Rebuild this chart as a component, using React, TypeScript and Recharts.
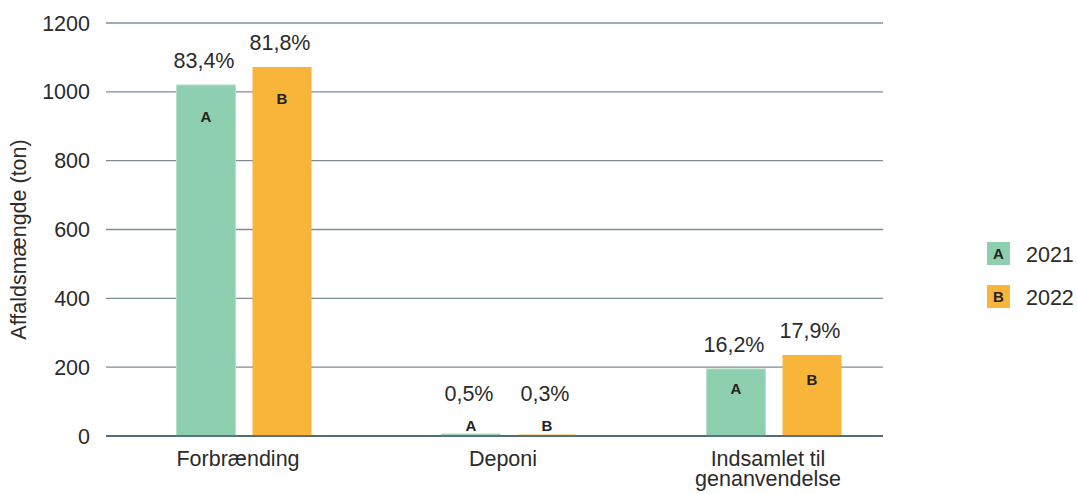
import React from 'react';
import { BarChart, Bar, XAxis, YAxis, CartesianGrid, LabelList, Legend, ReferenceLine } from 'recharts';

const categories = ['Forbrænding', 'Deponi', 'Indsamlet til genanvendelse'];
const values2021 = [1020, 6, 195];
const values2022 = [1072, 4, 235];
const pct2021 = ['83,4%', '0,5%', '16,2%'];
const pct2022 = ['81,8%', '0,3%', '17,9%'];
const seriesNames = ['2021', '2022'];
const seriesLetters = ['A', 'B'];
const seriesColors = ['#8ecfaf', '#f9b43a'];
const yTicks = [0, 200, 400, 600, 800, 1000, 1200];
const yLabel = 'Affaldsmængde (ton)';

const data = categories.map((c, i) => ({
  name: c,
  v2021: values2021[i],
  v2022: values2022[i],
  p2021: pct2021[i],
  p2022: pct2022[i],
}));

const FONT = '"Liberation Sans", Arial, Helvetica, sans-serif';
const TEXT = '#2b2b2b';
const FS = 21.5;

const renderPct = (props: any) => {
  const { x, y, width, height, value } = props;
  const base = y + height;
  const cy = Math.min(y - 25, base - 43);
  return (
    <text x={x + width / 2 - 2} y={cy} dy="0.36em" textAnchor="middle" fontFamily={FONT} fontSize={FS} fill={TEXT}>
      {value}
    </text>
  );
};

const makeLetter = (letter: string) => (props: any) => {
  const { x, y, width, height } = props;
  const base = y + height;
  const cy = Math.min(y + Math.min(32, 0.3 * height), base - 10);
  return (
    <text x={x + width / 2} y={cy} dy="0.36em" textAnchor="middle" fontFamily={FONT} fontSize={15} fontWeight="bold" fill="#222">
      {letter}
    </text>
  );
};

const wrap = (s: string, max: number) => {
  const words = s.split(' ');
  const lines: string[] = [];
  let cur = '';
  words.forEach((w) => {
    const t = cur ? cur + ' ' + w : w;
    if (t.length > max && cur) {
      lines.push(cur);
      cur = w;
    } else cur = t;
  });
  if (cur) lines.push(cur);
  return lines;
};

const XTick = (props: any) => {
  const { x, y, payload } = props;
  const lines = wrap(payload.value, 14);
  return (
    <text x={x - 6} y={y} textAnchor="middle" fontFamily={FONT} fontSize={FS} fill={TEXT}>
      {lines.map((l, i) => (
        <tspan key={i} x={x - 6} dy={i === 0 ? 22 : 20}>
          {l}
        </tspan>
      ))}
    </text>
  );
};

const YLabel = (props: any) => {
  const { viewBox } = props;
  const cx = viewBox.x - 27;
  const cy = viewBox.y + viewBox.height / 2 + 10;
  return (
    <text
      x={cx}
      y={cy}
      transform={`rotate(-90 ${cx} ${cy})`}
      textAnchor="middle"
      dominantBaseline="central"
      fontFamily={FONT}
      fontSize={FS}
      fill={TEXT}
    >
      {yLabel}
    </text>
  );
};

const LegendContent = () => (
  <div style={{ fontFamily: FONT }}>
    {seriesNames.map((n, i) => (
      <div key={n} style={{ display: 'flex', alignItems: 'center', height: 23, marginBottom: i === 0 ? 20 : 0 }}>
        <div
          style={{
            width: 23,
            height: 23,
            background: seriesColors[i],
            display: 'flex',
            alignItems: 'center',
            justifyContent: 'center',
            fontWeight: 'bold',
            fontSize: 15,
            color: '#222',
          }}
        >
          {seriesLetters[i]}
        </div>
        <span style={{ marginLeft: 16, fontSize: FS, color: TEXT, position: 'relative', top: 2 }}>{n}</span>
      </div>
    ))}
  </div>
);

export default function App() {
  return (
    <div style={{ position: 'absolute', left: 0, top: 0, background: '#fff' }}>
      <BarChart
        width={1077}
        height={494}
        data={data}
        margin={{ top: 23, right: 194, bottom: 28, left: 46 }}
        barSize={59}
        barGap={17}
      >
        <CartesianGrid vertical={false} stroke="#7d8c95" strokeWidth={1.4} />
        <ReferenceLine y={1200} stroke="#a3adb3" strokeWidth={1.6} />
        <XAxis
          dataKey="name"
          height={30}
          padding={{ left: 5.5, right: -23.5 }}
          tickLine={false}
          axisLine={{ stroke: '#3b5867', strokeWidth: 1.5 }}
          tick={<XTick />}
          interval={0}
        />
        <YAxis
          width={60}
          domain={[0, 1200]}
          ticks={yTicks}
          tickLine={false}
          axisLine={false}
          tickSize={0}
          tickMargin={16}
          tick={{ fontFamily: FONT, fontSize: FS, fill: TEXT }}
          label={<YLabel />}
        />
        <Legend
          layout="horizontal"
          verticalAlign="middle"
          align="center"
          content={<LegendContent />}
          wrapperStyle={{ left: 987, top: 242, width: 90, height: 70 }}
        />
        <Bar dataKey="v2021" name={seriesNames[0]} fill={seriesColors[0]} stroke="#b9e0cc" strokeWidth={1} isAnimationActive={false}>
          <LabelList dataKey="p2021" content={renderPct} />
          <LabelList dataKey="v2021" content={makeLetter(seriesLetters[0])} />
        </Bar>
        <Bar dataKey="v2022" name={seriesNames[1]} fill={seriesColors[1]} isAnimationActive={false}>
          <LabelList dataKey="p2022" content={renderPct} />
          <LabelList dataKey="v2022" content={makeLetter(seriesLetters[1])} />
        </Bar>
      </BarChart>
    </div>
  );
}
